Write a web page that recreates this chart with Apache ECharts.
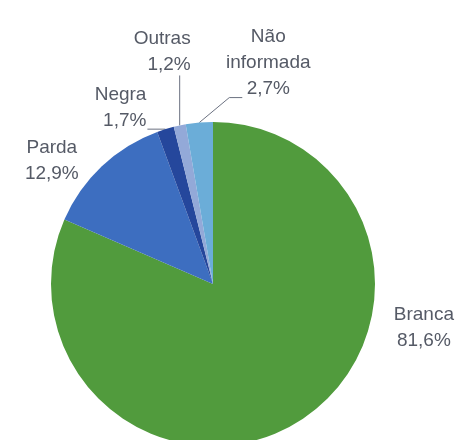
<!DOCTYPE html>
<html lang="pt">
<head>
    <meta charset="UTF-8">
    <title>Cor ou raça</title>
    <script src="https://cdn.jsdelivr.net/npm/echarts@6/dist/echarts.min.js"></script>
    <style>
        html, body { margin: 0; padding: 0; background: #fff; }
        .box { width: 462px; height: 440px; }
    </style>
</head>
<body>
<div id="show_echarts" class="box"></div>

<script>
    // dados (%)
    var categorias = ['Branca', 'Parda', 'Negra', 'Outras', 'Não informada'];
    var valores = [81.6, 12.9, 1.7, 1.2, 2.7];
    var cores = ['#519b3d', '#3d6ec0', '#25479c', '#93a9d8', '#6badd8'];

    // posição dos rótulos relativa ao ponto da borda da fatia (só estilo)
    var rotulos = [
        { at: [122, -92], align: 'center' },
        { at: [-50, -5], align: 'center' },
        { at: [-19, -21], align: 'right', line: [[-18, 0]] },
        { at: [11, -74], align: 'right', line: [[0, -50]] },
        { at: [69, -60], align: 'center', line: [[30, -25], [43, -25]] }
    ];

    function show() {
        var myChart = echarts.init(document.querySelector('.box'));

        var dados = categorias.map(function (nome, i) {
            var item = { name: nome, value: valores[i], itemStyle: { color: cores[i] } };
            if (!rotulos[i].line) item.labelLine = { show: false };
            return item;
        });

        var option = {
            animation: false,
            series: [
                {
                    type: 'pie',
                    radius: 162,
                    center: [213, 284],
                    startAngle: 90,
                    clockwise: true,
                    avoidLabelOverlap: false,
                    data: dados,
                    itemStyle: { borderWidth: 0 },
                    label: {
                        show: true,
                        position: 'outside',
                        distanceToLabelLine: 5,
                        fontFamily: 'Liberation Sans',
                        fontSize: 19,
                        lineHeight: 26,
                        color: '#555a66',
                        formatter: function (p) {
                            return p.name.replace(' ', '\n') + '\n' +
                                p.value.toFixed(1).replace('.', ',') + '%';
                        }
                    },
                    labelLine: {
                        show: true,
                        length: 0,
                        length2: 0,
                        lineStyle: { color: '#6b7180', width: 1 }
                    },
                    labelLayout: function (p) {
                        var r = p.labelRect;
                        var cfg = rotulos[p.dataIndex];
                        // ponto na borda da fatia (ângulo médio)
                        var ex = p.align === 'left' ? r.x - 5 : r.x + r.width + 5;
                        var ey = r.y + r.height / 2;
                        var out = {
                            x: ex + cfg.at[0],
                            y: ey + cfg.at[1],
                            align: cfg.align,
                            verticalAlign: 'middle'
                        };
                        if (cfg.line) {
                            var pts = [[ex, ey]];
                            cfg.line.forEach(function (d) { pts.push([ex + d[0], ey + d[1]]); });
                            if (pts.length < 3) pts.push(pts[pts.length - 1].slice());
                            out.labelLinePoints = pts;
                        }
                        return out;
                    }
                }
            ]
        };
        myChart.setOption(option);
    }
    show();
</script>
</body>
</html>
